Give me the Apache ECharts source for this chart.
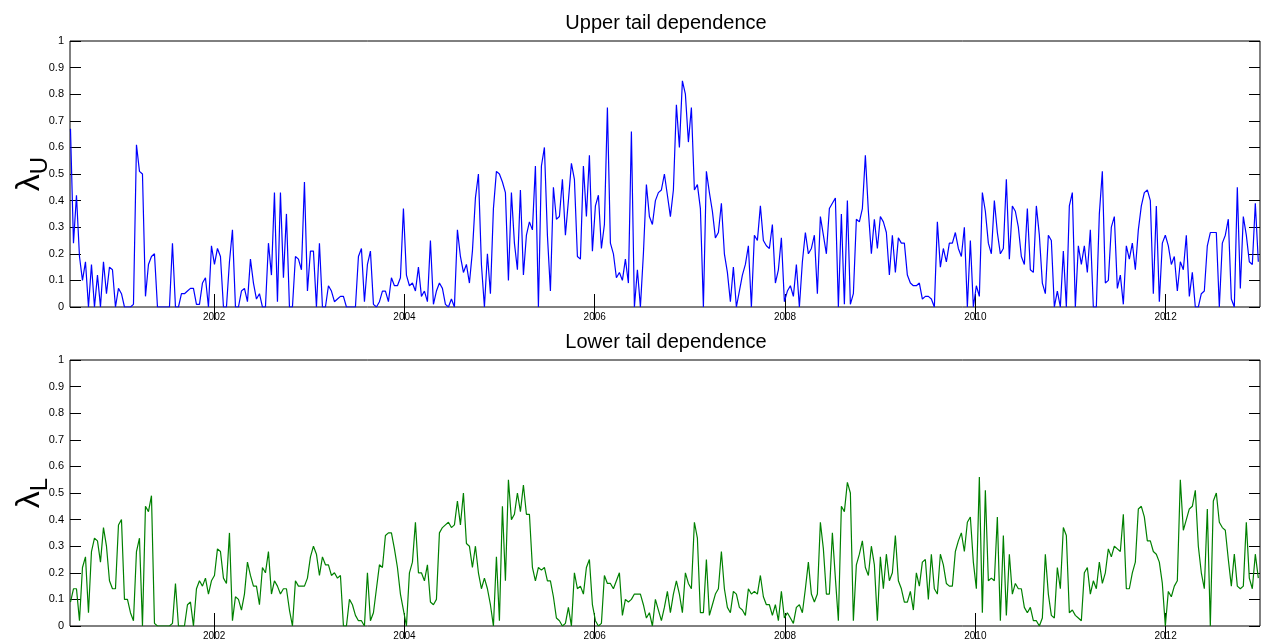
<!DOCTYPE html>
<html>
<head>
<meta charset="utf-8">
<script src="https://cdn.jsdelivr.net/npm/echarts@6/dist/echarts.min.js"></script>
<style>
html,body{margin:0;padding:0;background:#fff;}
#chart{width:1265px;height:644px;}
</style>
</head>
<body>
<div id="chart"></div>
<script>
// Time grid of the samples (decimal years): one reading every ~11.5 days
const sampleStartYear = 2000.49;
const sampleStepYears = 0.031526;
const axisStartYear = 2000.485;
const axisEndYear = 2012.992;
const yearTicks = [2002, 2004, 2006, 2008, 2010, 2012];

// Upper tail dependence (lambda_U)
const upperTail = [
 0.67,0.24,0.42,0.19,0.1,0.17,0,0.16,0,0.12,
 0,0.17,0.05,0.15,0.14,0,0.07,0.05,0,0,
 0,0.01,0.61,0.51,0.5,0.04,0.16,0.19,0.2,0,
 0,0,0,0,0.24,0,0,0.05,0.05,0.06,
 0.07,0.07,0.01,0.01,0.09,0.11,0,0.23,0.16,0.22,
 0.19,0,0,0.17,0.29,0,0,0.06,0.07,0.02,
 0.18,0.09,0.03,0.05,0,0,0.24,
 0.12,0.43,0.02,0.43,0.11,0.35,0,0,0.19,0.18,
 0.14,0.47,0.06,0.21,0.21,0,0.24,0,0,0.08,
 0.06,0.02,0.03,0.04,0.04,0,0,0,0,0.19,
 0.22,0.02,0.16,0.21,0.01,0,0.02,0.06,0.06,0.02,
 0.11,0.08,0.08,0.11,0.37,0.12,0.08,0.09,0.06,0.15,
 0.04,0.06,0.02,0.25,0.01,0.06,0.09,0.07,0.01,0,
 0.03,0,0.29,0.19,0.13,0.16,
 0.09,0.21,0.41,0.5,0.16,0,0.2,0.05,0.37,0.51,
 0.5,0.47,0.43,0.1,0.43,0.24,0.14,0.44,0.12,0.27,
 0.32,0.29,0.53,0,0.53,0.6,0.27,0.06,0.45,0.33,
 0.34,0.48,0.27,0.4,0.54,0.48,0.19,0.18,0.53,0.34,
 0.57,0.21,0.38,0.42,0.22,0.31,0.75,0.24,0.2,0.11,
 0.13,0.1,0.18,0.09,0.66,0,0.14,0,0.2,0.46,
 0.34,0.31,0.4,0.43,0.44,0.5,0.42,
 0.34,0.44,0.76,0.6,0.85,0.8,0.62,0.75,0.44,0.46,
 0.37,0,0.51,0.43,0.36,0.26,0.28,0.39,0.2,0.13,
 0.02,0.15,0,0.06,0.12,0.16,0.23,0,0.27,0.25,
 0.38,0.25,0.23,0.22,0.31,0.09,0.14,0.26,0.02,0.06,
 0.08,0.04,0.16,0,0.17,0.28,0.2,0.22,0.27,0.05,
 0.34,0.27,0.2,0.37,0.39,0.41,0,0.35,0.01,0.4,
 0.01,0.05,0.33,0.32,0.37,0.57,
 0.36,0.2,0.33,0.22,0.34,0.32,0.28,0.12,0.27,0.13,
 0.26,0.24,0.24,0.12,0.09,0.08,0.08,0.09,0.03,0.04,
 0.04,0.03,0,0.32,0.15,0.22,0.17,0.24,0.24,0.28,
 0.22,0.19,0.3,0,0.25,0,0.08,0.04,0.43,0.36,
 0.24,0.2,0.4,0.28,0.2,0.22,0.48,0.18,0.38,0.36,
 0.3,0.19,0.16,0.37,0.14,0.13,0.38,0.27,0.09,0.05,
 0.27,0.25,0,0.06,0,0.21,0,
 0.38,0.43,0,0.23,0.16,0.23,0.13,0.29,0,0,
 0.35,0.51,0.09,0.1,0.3,0.34,0.07,0.12,0.01,0.23,
 0.18,0.24,0.14,0.29,0.38,0.43,0.44,0.4,0.05,0.38,
 0.02,0.24,0.27,0.23,0.16,0.19,0.06,0.17,0.14,0.27,
 0.04,0.13,0,0,0.05,0.06,0.23,0.28,0.28,0.28,
 0,0.24,0.27,0.33,0.03,0,0.45,0.07,0.34,0.27,
 0.17,0.16,0.39,0.17
];

// Lower tail dependence (lambda_L)
const lowerTail = [
 0.09,0.14,0.14,0.02,0.22,0.26,0.05,0.28,0.33,0.32,
 0.24,0.37,0.3,0.17,0.14,0.14,0.38,0.4,0.1,0.1,
 0.05,0.02,0.28,0.33,0,0.45,0.43,0.49,0.01,0,
 0,0,0,0,0.01,0.16,0,0,0,0.08,
 0.09,0,0.14,0.17,0.15,0.18,0.12,0.17,0.19,0.29,
 0.28,0.18,0.16,0.35,0.02,0.11,0.1,0.06,0.12,0.24,
 0.19,0.15,0.15,0.08,0.22,0.2,0.28,
 0.12,0.17,0.15,0.12,0.14,0.14,0.06,0,0.17,0.15,
 0.15,0.15,0.18,0.26,0.3,0.27,0.19,0.26,0.23,0.23,
 0.19,0.2,0.18,0.19,0,0,0.1,0.08,0.04,0.02,
 0.02,0,0.2,0.02,0.05,0.14,0.23,0.22,0.34,0.35,
 0.35,0.29,0.22,0.12,0.06,0,0.2,0.24,0.39,0.2,
 0.2,0.17,0.23,0.09,0.08,0.1,0.35,0.37,0.38,0.39,
 0.37,0.38,0.47,0.38,0.5,0.31,
 0.3,0.22,0.3,0.2,0.14,0.18,0.14,0.08,0,0.26,
 0.02,0.45,0.17,0.55,0.4,0.42,0.5,0.43,0.53,0.42,
 0.42,0.22,0.17,0.22,0.21,0.22,0.17,0.17,0.11,0.03,
 0.02,0,0.01,0.07,0,0.2,0.14,0.15,0.12,0.22,
 0.25,0.08,0.02,0,0.01,0.19,0.16,0.16,0.14,0.17,
 0.2,0.04,0.1,0.09,0.1,0.12,0.12,0.12,0.08,0.03,
 0.05,0,0.1,0.06,0.02,0.07,0.13,
 0.05,0.12,0.17,0.12,0.05,0.2,0.16,0.14,0.39,0.33,
 0.05,0.05,0.25,0.04,0.08,0.12,0.14,0.28,0.14,0.07,
 0.05,0.13,0.12,0.07,0.06,0.04,0.14,0.12,0.13,0.12,
 0.19,0.11,0.08,0.08,0.04,0.08,0.02,0.13,0.03,0.05,
 0.03,0.01,0.07,0.08,0.05,0.14,0.24,0.12,0.09,0.12,
 0.39,0.29,0.12,0.12,0.35,0.18,0.02,0.45,0.43,0.54,
 0.5,0.02,0.23,0.27,0.32,0.22,
 0.19,0.3,0.23,0.02,0.26,0.14,0.27,0.17,0.2,0.34,
 0.17,0.14,0.09,0.09,0.13,0.06,0.2,0.15,0.24,0.25,
 0.1,0.27,0.14,0.12,0.27,0.23,0.16,0.15,0.15,0.28,
 0.32,0.35,0.28,0.39,0.41,0.24,0.14,0.56,0.05,0.51,
 0.17,0.18,0.17,0.41,0.02,0.34,0.04,0.27,0.12,0.16,
 0.14,0.14,0.07,0.05,0.07,0.02,0.02,0,0.03,0.27,
 0.12,0.04,0.03,0.22,0.14,0.37,0.34,
 0.05,0.06,0.04,0.03,0.02,0.2,0.22,0.12,0.17,0.14,
 0.24,0.16,0.2,0.29,0.26,0.3,0.29,0.28,0.42,0.14,
 0.14,0.2,0.24,0.44,0.45,0.41,0.32,0.32,0.28,0.27,
 0.24,0.16,0,0.13,0.11,0.15,0.17,0.55,0.36,0.4,
 0.44,0.45,0.51,0.3,0.2,0.14,0.44,0,0.47,0.5,
 0.39,0.37,0.36,0.25,0.15,0.27,0.15,0.14,0.15,0.39,
 0.18,0.14,0.27,0.18
];

const panelTitles = ['Upper tail dependence', 'Lower tail dependence'];

const FONT = "'Liberation Sans', Arial, Helvetica, sans-serif";
const toPairs = arr => arr.map((v, i) => [sampleStartYear + i * sampleStepYears, v]);

const gridTops = [41, 360];
const grids = gridTops.map(t => ({
  left: 70, top: t, width: 1190, height: 266,
  outerBoundsMode: 'none', containLabel: false,
  show: true, borderColor: '#000', borderWidth: 1, backgroundColor: '#fff'
}));

function xAx(gi, pos, labels) {
  return {
    type: 'value', gridIndex: gi, position: pos,
    min: axisStartYear, max: axisEndYear,
    splitLine: { show: false },
    axisLine: { show: false },
    axisTick: { show: true, inside: true, length: 13, customValues: yearTicks,
      lineStyle: { color: '#000', width: 1 } },
    axisLabel: { show: labels, customValues: yearTicks, margin: 5,
      fontSize: 10, color: '#000', fontFamily: FONT,
      formatter: v => String(Math.round(v)) }
  };
}
function yAx(gi, pos, labels, sub) {
  const o = {
    type: 'value', gridIndex: gi, position: pos,
    min: 0, max: 1, interval: 0.1,
    splitLine: { show: false },
    axisLine: { show: false },
    axisTick: { show: true, inside: true, length: 11, lineStyle: { color: '#000', width: 1 } },
    axisLabel: { show: labels, margin: 6, fontSize: 11, color: '#000', fontFamily: FONT,
      formatter: v => String(Math.round(v * 10) / 10) }
  };
  if (sub) {
    o.name = '{l|λ}{s|' + sub + '}';
    o.nameLocation = 'middle';
    o.nameRotate = 90;
    o.nameGap = 18;
    o.nameMoveOverlap = false;
    o.nameTextStyle = {
      color: '#000', fontFamily: FONT,
      rich: {
        l: { fontSize: 34, fontFamily: FONT, color: '#000' },
        s: { fontSize: 24, fontFamily: FONT, color: '#000', padding: [20, 0, 0, 0] }
      }
    };
  }
  return o;
}

const option = {
  animation: false,
  backgroundColor: '#fff',
  title: panelTitles.map((t, i) => ({
    text: t, left: 661, top: i === 0 ? 8 : 327, textAlign: 'center',
    textStyle: { fontSize: 20, fontWeight: 'normal', color: '#000', fontFamily: FONT }
  })),
  grid: grids,
  xAxis: [xAx(0, 'bottom', true), xAx(0, 'top', false), xAx(1, 'bottom', true), xAx(1, 'top', false)],
  yAxis: [yAx(0, 'left', true, 'U'), yAx(0, 'right', false), yAx(1, 'left', true, 'L'), yAx(1, 'right', false)],
  series: [
    { type: 'line', xAxisIndex: 0, yAxisIndex: 0, data: toPairs(upperTail),
      showSymbol: false, symbol: 'none', lineStyle: { color: '#0000ff', width: 1.2 }, itemStyle: { color: '#0000ff' } },
    { type: 'line', xAxisIndex: 2, yAxisIndex: 2, data: toPairs(lowerTail),
      showSymbol: false, symbol: 'none', lineStyle: { color: '#008000', width: 1.2 }, itemStyle: { color: '#008000' } }
  ]
};

const chart = echarts.init(document.getElementById('chart'), null, { renderer: 'canvas' });
chart.setOption(option);
</script>
</body>
</html>
